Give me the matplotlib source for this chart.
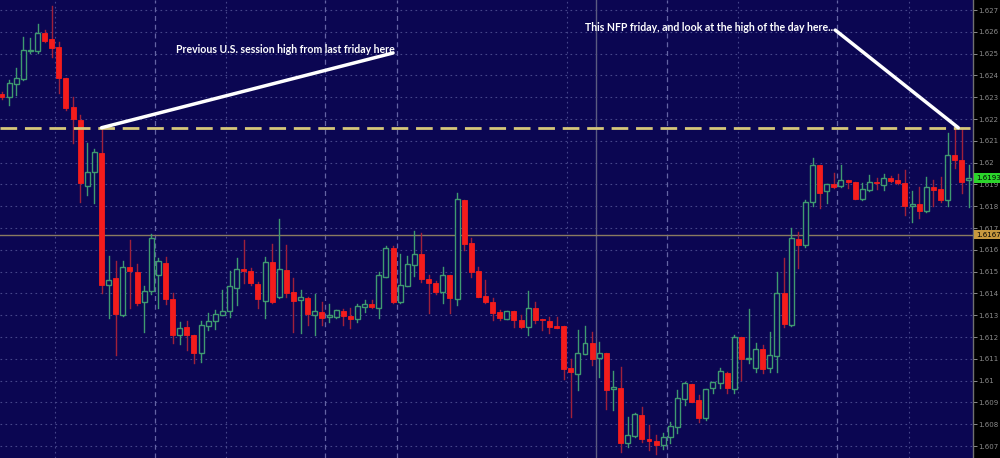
import numpy as np
import matplotlib
matplotlib.use("Agg")
from matplotlib import pyplot as plt
from matplotlib.patches import Rectangle
from matplotlib.ticker import FuncFormatter

# OHLC (GBP/USD style quotes)
opens = [1.62315, 1.62301, 1.62361, 1.62383, 1.62512, 1.62512, 1.62594, 1.62567, 1.62530, 1.62388,
         1.62255, 1.62195, 1.61893, 1.61957, 1.62044, 1.61439, 1.61471, 1.61301, 1.61521, 1.61498,
         1.61361, 1.61411, 1.61484, 1.61539, 1.61374, 1.61209, 1.61246, 1.61209, 1.61127, 1.61251,
         1.61273, 1.61301, 1.61319, 1.61425, 1.61512, 1.61503, 1.61443, 1.61365, 1.61544, 1.61384,
         1.61507, 1.61406, 1.61370, 1.61379, 1.61301, 1.61315, 1.61292, 1.61292, 1.61319, 1.61296,
         1.61283, 1.61338, 1.61351, 1.61333, 1.61475, 1.61608, 1.61361, 1.61434, 1.61530, 1.61581,
         1.61466, 1.61448, 1.61406, 1.61484, 1.61374, 1.61828, 1.61631, 1.61503, 1.61388, 1.61361,
         1.61315, 1.61283, 1.61319, 1.61278, 1.61246, 1.61333, 1.61283, 1.61273, 1.61251, 1.61251,
         1.61058, 1.61030, 1.61122, 1.61173, 1.61104, 1.61127, 1.60962, 1.60966, 1.60714, 1.60746,
         1.60842, 1.60732, 1.60723, 1.60705, 1.60741, 1.60787, 1.60916, 1.60984, 1.60911, 1.60828,
         1.60966, 1.60989, 1.61035, 1.60962, 1.61200, 1.61099, 1.61058, 1.61145, 1.61058, 1.61113,
         1.61402, 1.61255, 1.61650, 1.61622, 1.61819, 1.61989, 1.61870, 1.61902, 1.61893, 1.61920,
         1.61911, 1.61833, 1.61874, 1.61911, 1.61897, 1.61929, 1.61920, 1.61906, 1.61801, 1.61810,
         1.61778, 1.61888, 1.61879, 1.61828, 1.62035, 1.62012, 1.61920]
highs = [1.62324, 1.62379, 1.62434, 1.62576, 1.62572, 1.62636, 1.62608, 1.62718, 1.62553, 1.62388,
         1.62301, 1.62218, 1.62090, 1.62062, 1.62160, 1.61572, 1.61549, 1.61549, 1.61645, 1.61535,
         1.61434, 1.61673, 1.61562, 1.61567, 1.61402, 1.61269, 1.61273, 1.61209, 1.61273, 1.61310,
         1.61324, 1.61416, 1.61503, 1.61562, 1.61645, 1.61517, 1.61452, 1.61567, 1.61627, 1.61741,
         1.61622, 1.61471, 1.61416, 1.61384, 1.61397, 1.61361, 1.61351, 1.61324, 1.61328, 1.61333,
         1.61351, 1.61370, 1.61370, 1.61498, 1.61617, 1.61617, 1.61581, 1.61572, 1.61686, 1.61677,
         1.61484, 1.61457, 1.61521, 1.61484, 1.61861, 1.61828, 1.61654, 1.61521, 1.61462, 1.61379,
         1.61324, 1.61319, 1.61319, 1.61301, 1.61411, 1.61361, 1.61283, 1.61292, 1.61292, 1.61251,
         1.61099, 1.61232, 1.61251, 1.61223, 1.61177, 1.61127, 1.61044, 1.61062, 1.60833, 1.60851,
         1.60879, 1.60796, 1.60750, 1.60760, 1.60810, 1.60957, 1.60994, 1.60984, 1.60934, 1.60962,
         1.60994, 1.61058, 1.61039, 1.61209, 1.61200, 1.61328, 1.61173, 1.61163, 1.61223, 1.61498,
         1.61562, 1.61700, 1.61682, 1.61828, 1.62021, 1.61989, 1.61902, 1.61952, 1.61989, 1.61920,
         1.61911, 1.61906, 1.61943, 1.61929, 1.61948, 1.61939, 1.61948, 1.61966, 1.61870, 1.61888,
         1.61934, 1.61920, 1.61934, 1.62136, 1.62160, 1.62159, 1.61989]
lows = [1.62292, 1.62264, 1.62310, 1.62379, 1.62503, 1.62503, 1.62553, 1.62484, 1.62319, 1.62241,
        1.62090, 1.61819, 1.61851, 1.61815, 1.61402, 1.61287, 1.61117, 1.61296, 1.61333, 1.61347,
        1.61223, 1.61397, 1.61333, 1.61351, 1.61173, 1.61168, 1.61140, 1.61081, 1.61085, 1.61232,
        1.61237, 1.61301, 1.61292, 1.61347, 1.61448, 1.61439, 1.61333, 1.61287, 1.61356, 1.61379,
        1.61384, 1.61223, 1.61218, 1.61255, 1.61209, 1.61255, 1.61269, 1.61287, 1.61255, 1.61241,
        1.61269, 1.61315, 1.61333, 1.61287, 1.61475, 1.61356, 1.61356, 1.61434, 1.61480, 1.61452,
        1.61310, 1.61397, 1.61356, 1.61310, 1.61347, 1.61599, 1.61475, 1.61384, 1.61356, 1.61278,
        1.61278, 1.61283, 1.61246, 1.61241, 1.61209, 1.61264, 1.61232, 1.61218, 1.61241, 1.61007,
        1.60833, 1.60957, 1.61122, 1.61072, 1.61017, 1.60870, 1.60865, 1.60673, 1.60695, 1.60741,
        1.60718, 1.60682, 1.60663, 1.60686, 1.60714, 1.60760, 1.60888, 1.60902, 1.60810, 1.60819,
        1.60943, 1.60966, 1.60943, 1.60943, 1.61003, 1.61081, 1.61039, 1.61035, 1.61039, 1.61039,
        1.61246, 1.61251, 1.61517, 1.61613, 1.61801, 1.61792, 1.61815, 1.61884, 1.61888, 1.61884,
        1.61833, 1.61828, 1.61870, 1.61879, 1.61874, 1.61911, 1.61902, 1.61760, 1.61728, 1.61746,
        1.61773, 1.61801, 1.61819, 1.61801, 1.61975, 1.61861, 1.61796]
closes = [1.62301, 1.62365, 1.62388, 1.62517, 1.62517, 1.62594, 1.62558, 1.62526, 1.62388, 1.62250,
          1.62200, 1.61906, 1.61957, 1.62049, 1.61439, 1.61462, 1.61306, 1.61521, 1.61503, 1.61356,
          1.61411, 1.61654, 1.61549, 1.61374, 1.61209, 1.61241, 1.61209, 1.61127, 1.61255, 1.61273,
          1.61306, 1.61319, 1.61434, 1.61512, 1.61503, 1.61448, 1.61374, 1.61544, 1.61361, 1.61512,
          1.61402, 1.61365, 1.61384, 1.61306, 1.61319, 1.61287, 1.61301, 1.61324, 1.61296, 1.61283,
          1.61342, 1.61351, 1.61338, 1.61484, 1.61608, 1.61361, 1.61439, 1.61535, 1.61581, 1.61466,
          1.61448, 1.61406, 1.61484, 1.61379, 1.61833, 1.61627, 1.61498, 1.61384, 1.61361, 1.61310,
          1.61287, 1.61319, 1.61278, 1.61246, 1.61333, 1.61278, 1.61278, 1.61246, 1.61241, 1.61053,
          1.61039, 1.61127, 1.61173, 1.61099, 1.61127, 1.60957, 1.60971, 1.60714, 1.60751, 1.60847,
          1.60732, 1.60723, 1.60705, 1.60741, 1.60792, 1.60920, 1.60989, 1.60902, 1.60828, 1.60962,
          1.60994, 1.61044, 1.60966, 1.61200, 1.61099, 1.61104, 1.61145, 1.61053, 1.61117, 1.61402,
          1.61260, 1.61654, 1.61622, 1.61819, 1.61989, 1.61861, 1.61902, 1.61888, 1.61920, 1.61911,
          1.61833, 1.61879, 1.61911, 1.61906, 1.61929, 1.61916, 1.61906, 1.61801, 1.61810, 1.61778,
          1.61888, 1.61874, 1.61828, 1.62035, 1.62012, 1.61911, 1.61930]

price_ticks = [1.607, 1.608, 1.609, 1.61, 1.611, 1.612, 1.613, 1.614, 1.615, 1.616,
               1.617, 1.618, 1.619, 1.62, 1.621, 1.622, 1.623, 1.624, 1.625, 1.626, 1.627]
session_high = 1.6216
ref_price = 1.6167
last_price = 1.6193
dotted_vlines = [7.5, 31.5, 79.5, 103.5, 127.5]
dashed_vlines = [21.5, 45.5, 55.5, 93.5, 117.5]
solid_vline = 83.5

note1 = "Previous U.S. session high from last friday here"
note2 = "This NFP friday, and look at the high of the day here..."

bg = "#0b0652"
up_col = "#3f9a70"
dn_col = "#f41c1c"
dn_wick = "#a0203a"

fig = plt.figure(figsize=(10, 4.58), dpi=100, facecolor="black")
ax = fig.add_axes([0, 0, 0.973, 1])
ax.set_facecolor(bg)

n = len(opens)
x = np.arange(n)
ax.set_xlim(-0.28, 136.57)
ax.set_ylim(1.60645, 1.62746)

# grid
for p in price_ticks:
    ax.axhline(p, color="#46468a", lw=0.8, ls=(0, (1.5, 3)), zorder=1)
for v in dotted_vlines:
    ax.axvline(v, color="#46468a", lw=0.8, ls=(0, (1.5, 3)), zorder=1)
for v in dashed_vlines:
    ax.axvline(v, color="#6464a4", lw=0.9, ls=(0, (4, 3)), zorder=1)
ax.axvline(solid_vline, color="#5c5c80", lw=1.0, zorder=1)
ax.axhline(ref_price, color="#8a7a60", lw=1.0, zorder=1)

# candles
w = 0.7
for i in range(n):
    o, h, l, c = opens[i], highs[i], lows[i], closes[i]
    if c >= o:
        ax.plot([i, i], [l, h], color=up_col, lw=1.0, zorder=2)
        ax.add_patch(Rectangle((i - w / 2, o), w, max(c - o, 0.00003),
                               facecolor=bg, edgecolor=up_col, lw=1.0, zorder=3))
    else:
        ax.plot([i, i], [l, h], color=dn_wick, lw=1.0, zorder=2)
        ax.add_patch(Rectangle((i - w / 2, c), w, max(o - c, 0.00003),
                               facecolor=dn_col, edgecolor=dn_col, lw=0.6, zorder=3))

ax.axhline(session_high, color="#d6c77a", lw=2.0, ls=(0, (6, 2.8)), zorder=4)

# annotations
ax.plot([14, 55], [highs[14], 1.62503], color="white", lw=2.5, zorder=5, solid_capstyle="round")
ax.plot([117.2, 134.5], [1.62608, session_high], color="white", lw=2.5, zorder=5, solid_capstyle="round")
fnt = ["Lato", "DejaVu Sans"]
ax.text(24.5, 1.62517, note1, color="white", fontsize=7.6, fontweight="bold",
        family=fnt, va="center", ha="left", zorder=6)
ax.text(82.0, 1.62622, note2, color="white", fontsize=7.6, fontweight="bold",
        family=fnt, va="center", ha="left", zorder=6)

# price axis on the right
ax.yaxis.tick_right()
ax.set_yticks(price_ticks)
ax.yaxis.set_major_formatter(FuncFormatter(lambda v, pos: "%g" % v))
ax.tick_params(axis="y", colors="#8c8c8c", labelsize=5, length=3, width=0.7, pad=1)
ax.set_xticks([])
for s in ["top", "bottom", "left"]:
    ax.spines[s].set_visible(False)
ax.spines["right"].set_color("#707070")
ax.spines["right"].set_linewidth(1.0)

ax.text(1.003, last_price, "%.4f" % last_price, transform=ax.get_yaxis_transform(),
        fontsize=5, color="black", va="center", ha="left",
        bbox=dict(boxstyle="square,pad=0.25", fc="#2bd42b", ec="none"), zorder=7, clip_on=False)
ax.text(1.003, ref_price, "%.4f" % ref_price, transform=ax.get_yaxis_transform(),
        fontsize=5, color="black", va="center", ha="left",
        bbox=dict(boxstyle="square,pad=0.25", fc="#c8983e", ec="none"), zorder=7, clip_on=False)

fig.savefig("out.png", dpi=100, facecolor="black")
